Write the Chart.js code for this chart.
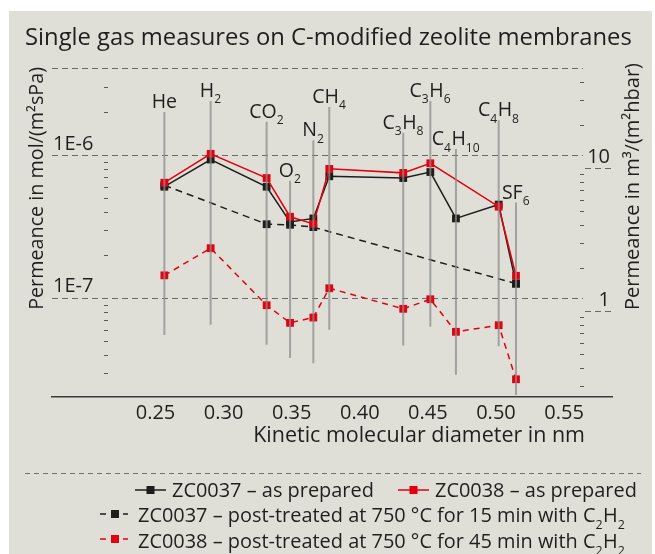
<!DOCTYPE html>
<html><head><meta charset="utf-8">
<script src="https://cdn.jsdelivr.net/npm/chart.js@4"></script>
<style>html,body{margin:0;padding:0;background:#fff;}canvas{display:block;}</style>
</head><body>
<canvas id="c" width="655" height="554" style="width:655px;height:554px"></canvas>
<script>
const FONT = '"Open Sans", "Noto Sans", sans-serif';
const TEXT = '#1f1f1e';
const BG = '#dfdfd8';

// ---- data ----
const gases = ["He", "H_2", "CO_2", "O_2", "N_2", "CH_4", "C_3H_8", "C_3H_6", "C_4H_10", "C_4H_8", "SF_6"];
const kineticDiameter = [0.2565, 0.2905, 0.3316, 0.3488, 0.3659, 0.3776, 0.4319, 0.4518, 0.4706, 0.5020, 0.5147];
const dropTop    = [2.0e-6, 2.39e-6, 1.71e-6, 6.6e-7, 1.27e-6, 2.17e-6, 1.43e-6, 2.39e-6, 1.10e-6, 1.75e-6, 4.65e-7];
const dropBottom = [5.5e-8, 6.5e-8, 4.7e-8, 3.8e-8, 3.5e-8, 6.0e-8, 4.65e-8, 6.3e-8, 2.9e-8, 4.6e-8, 2.1e-8];
const zc0037Prepared = [6.0e-7, 9.3e-7, 6.0e-7, 3.4e-7, 3.6e-7, 7.1e-7, 6.9e-7, 7.6e-7, 3.6e-7, 4.5e-7, 1.26e-7];
const zc0038Prepared = [6.4e-7, 1.02e-6, 6.9e-7, 3.7e-7, 3.3e-7, 8.0e-7, 7.5e-7, 8.75e-7, null, 4.35e-7, 1.43e-7];
const zc0037Treated  = [6.15e-7, null, 3.28e-7, 3.25e-7, 3.13e-7, null, null, null, null, null, 1.26e-7];
const zc0038Treated  = [1.44e-7, 2.23e-7, 8.9e-8, 6.7e-8, 7.3e-8, 1.17e-7, 8.4e-8, 9.8e-8, 5.8e-8, 6.45e-8, 2.7e-8];
const seriesLabels = [
  "ZC0037 – as prepared",
  "ZC0038 – as prepared",
  "ZC0037 – post-treated at 750 °C for 15 min with C_2H_2",
  "ZC0038 – post-treated at 750 °C for 45 min with C_2H_2"
];
const xTicks = [0.25, 0.30, 0.35, 0.40, 0.45, 0.50, 0.55];
const leftTicks = [1e-7, 1e-6];
const leftTickLabels = ["1E-7", "1E-6"];
const rightTicks = [1, 10];
const rightTickLabels = ["1", "10"];
const chartTitle = "Single gas measures on C-modified zeolite membranes";
const xTitle = "Kinetic molecular diameter in nm";
const yTitle = "Permeance in mol/(m²sPa)";
const y2Title = "Permeance in m³/(m²hbar)";

// ---- rich text helpers (subscripts) ----
function parseRich(s){const out=[];const re=/_(\d+)|([^_]+)/g;let m;while((m=re.exec(s))){if(m[1])out.push({t:m[1],sub:true});else out.push({t:m[2],sub:false});}return out;}
function richWidth(ctx,s,size){let w=0;for(const p of parseRich(s)){ctx.font=(p.sub?size*0.62:size)+'px '+FONT;w+=ctx.measureText(p.t).width+(p.sub?0.5:0);}return w;}
function drawRich(ctx,s,x,y,size,align,color){
  const w=richWidth(ctx,s,size);let cx=align==='center'?x-w/2:align==='right'?x-w:x;
  ctx.fillStyle=color;ctx.textBaseline='alphabetic';ctx.textAlign='left';
  for(const p of parseRich(s)){ctx.font=(p.sub?size*0.62:size)+'px '+FONT;ctx.fillText(p.t,cx,p.sub?y+size*0.33:y);cx+=ctx.measureText(p.t).width+(p.sub?0.5:0);}
}
function fitSize(ctx,s,target){return 100*target/richWidth(ctx,s,100);}

const BLACK='#1d1d1b', RED='#e3000f', DROP='rgba(140,140,140,0.75)';

const series = [
  {label:seriesLabels[0], data:zc0037Prepared, color:BLACK, dash:[], order:2},
  {label:seriesLabels[1], data:zc0038Prepared, color:RED, dash:[], order:1},
  {label:seriesLabels[2], data:zc0037Treated, color:BLACK, dash:[7,5], order:4},
  {label:seriesLabels[3], data:zc0038Treated, color:RED, dash:[6,5], order:3}
];
const datasets = series.map(s=>({
  label:s.label,
  data:kineticDiameter.map((x,i)=>({x:x,y:s.data[i]})),
  borderColor:s.color, backgroundColor:s.color, borderWidth:1.5, borderDash:s.dash,
  pointStyle:'rect', pointRadius:5.5, pointBackgroundColor:s.color, pointBorderColor:s.color, pointBorderWidth:0,
  spanGaps:true, tension:0, order:s.order, yAxisID:'y'
}));
gases.forEach((g,i)=>datasets.push({
  label:'', data:[{x:kineticDiameter[i],y:dropTop[i]},{x:kineticDiameter[i],y:dropBottom[i]}],
  borderColor:DROP, borderWidth:2, pointRadius:0, order:0, yAxisID:'y'
}));

const deco = {
  id:'deco',
  beforeDraw(chart){
    const ctx=chart.ctx;ctx.save();ctx.fillStyle='#fff';ctx.fillRect(0,0,chart.width,chart.height);
    ctx.fillStyle=BG;ctx.fillRect(9,11,643,543);ctx.restore();
  },
  beforeDatasetsDraw(chart){
    const {ctx,chartArea:a,scales:{y,y2}}=chart;
    ctx.save();
    const hl=(x1,x2,py)=>{ctx.beginPath();ctx.moveTo(x1,py);ctx.lineTo(x2,py);ctx.stroke();};
    // dashed grid lines (left axis) and top line
    ctx.strokeStyle='#6a6a69';ctx.lineWidth=1;ctx.setLineDash([6,4]);
    [...leftTicks, y.max].forEach(v=>hl(a.left,583,Math.round(y.getPixelForValue(v))+0.5));
    rightTicks.forEach(v=>hl(585,a.right,Math.round(y2.getPixelForValue(v))+0.5));
    ctx.setLineDash([]);
    // minor ticks
    ctx.strokeStyle='#5a5a59';
    for(let d=-8;d<=-6;d++)for(let m=2;m<=9;m++){const v=m*Math.pow(10,d);if(v>y.min*1.2&&v<y.max*0.9)hl(104,108,Math.round(y.getPixelForValue(v))+0.5);}
    for(let d=-1;d<=1;d++)for(let m=2;m<=9;m++){const v=m*Math.pow(10,d);if(v>y2.min*1.1&&v<y2.max*0.9)hl(580,584,Math.round(y2.getPixelForValue(v))+0.5);}
    // tick labels
    leftTicks.forEach((v,i)=>drawRich(ctx,leftTickLabels[i],53,y.getPixelForValue(v)-5.5,20,'left',TEXT));
    rightTicks.forEach((v,i)=>drawRich(ctx,rightTickLabels[i],610,y2.getPixelForValue(v)-4.5,20,'right',TEXT));
    // title
    drawRich(ctx,chartTitle,25,45,fitSize(ctx,chartTitle,607),'left',TEXT);
    // x title
    drawRich(ctx,xTitle,585,442,fitSize(ctx,xTitle,332),'right',TEXT);
    // y titles (rotated)
    ctx.save();ctx.translate(43,67);ctx.rotate(-Math.PI/2);drawRich(ctx,yTitle,0,0,fitSize(ctx,yTitle,243),'right',TEXT);ctx.restore();
    ctx.save();ctx.translate(639,63);ctx.rotate(-Math.PI/2);drawRich(ctx,y2Title,0,0,fitSize(ctx,y2Title,247),'right',TEXT);ctx.restore();
    ctx.restore();
  },
  afterDatasetsDraw(chart){
    const {ctx,scales:{x,y}}=chart;ctx.save();
    gases.forEach((g,i)=>drawRich(ctx,g,x.getPixelForValue(kineticDiameter[i]),y.getPixelForValue(dropTop[i])-4,19.5,'center',TEXT));
    ctx.restore();
  },
  afterDraw(chart){
    const ctx=chart.ctx;ctx.save();
    // separator
    ctx.strokeStyle='#707070';ctx.lineWidth=1;ctx.setLineDash([5,4]);
    ctx.beginPath();ctx.moveTo(25,473.5);ctx.lineTo(641,473.5);ctx.stroke();ctx.setLineDash([]);
    const ds=chart.data.datasets;
    const lsize=fitSize(ctx,ds[0].label,202);
    const solidIcon=(x1,x2,yy,c)=>{ctx.strokeStyle=c;ctx.lineWidth=1.5;ctx.beginPath();ctx.moveTo(x1,yy);ctx.lineTo(x2,yy);ctx.stroke();ctx.fillStyle=c;const cx=(x1+x2)/2;ctx.fillRect(cx-4,yy-4,8,8);};
    const dashIcon=(x1,yy,c)=>{ctx.strokeStyle=c;ctx.lineWidth=1.5;ctx.beginPath();ctx.moveTo(x1,yy);ctx.lineTo(x1+6,yy);ctx.moveTo(x1+23,yy);ctx.lineTo(x1+28,yy);ctx.stroke();ctx.fillStyle=c;ctx.fillRect(x1+11,yy-4,8,8);};
    solidIcon(135,166,490,ds[0].borderColor); drawRich(ctx,ds[0].label,172,497,lsize,'left',TEXT);
    solidIcon(398,429,490,ds[1].borderColor); drawRich(ctx,ds[1].label,435,497,lsize,'left',TEXT);
    dashIcon(100,514,ds[2].borderColor); drawRich(ctx,ds[2].label,138,522,lsize,'left',TEXT);
    dashIcon(100,539,ds[3].borderColor); drawRich(ctx,ds[3].label,138,548,lsize,'left',TEXT);
    ctx.restore();
  }
};

new Chart(document.getElementById('c'), {
  type:'line',
  data:{datasets:datasets},
  options:{
    responsive:false, animation:false, devicePixelRatio:1, events:[],
    layout:{padding:{left:52,right:43,top:68,bottom:127}},
    plugins:{legend:{display:false},tooltip:{enabled:false},title:{display:false}},
    scales:{
      x:{type:'linear',position:'bottom',min:0.174,max:0.5852,
        afterBuildTicks:s=>{s.ticks=xTicks.map(v=>({value:v}));},
        afterFit:s=>{s.height=30;},
        grid:{display:false,drawTicks:false},
        border:{display:true,color:'#3a3a39',width:1.5},
        ticks:{padding:4,maxRotation:0,autoSkip:false,color:TEXT,font:{family:FONT,size:20},callback:v=>Number(v).toFixed(2)}
      },
      y:{type:'logarithmic',display:false,min:2.03e-8,max:4.06e-6},
      y2:{type:'logarithmic',display:false,position:'right',min:0.25,max:50}
    }
  },
  plugins:[deco]
});
</script>
</body></html>
